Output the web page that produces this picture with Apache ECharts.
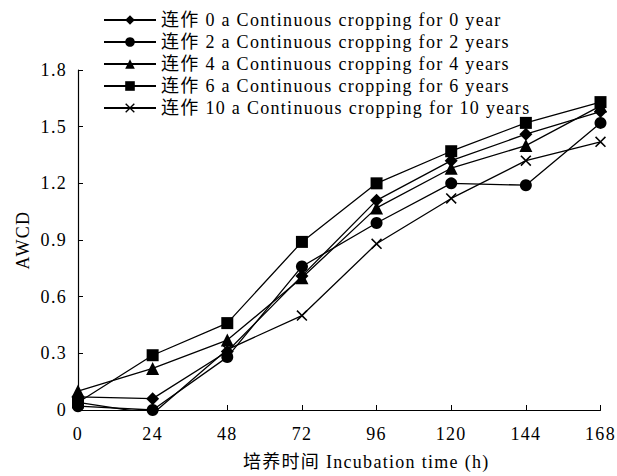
<!DOCTYPE html>
<html>
<head>
    <meta charset="utf-8">
    <title>AWCD</title>
    <script src="https://cdn.jsdelivr.net/npm/echarts@6/dist/echarts.min.js"></script>
    <style>
        html, body { margin: 0; padding: 0; background: #fff; }
        /* 原图字体偏宽，用字距近似 */
        #main svg text { letter-spacing: 1.3px; }
    </style>
</head>
<body>
    <div id="main" style="width: 617px;height:476px;"></div>
    <script>
        // 横坐标：培养时间 (h)
        var hours = [0, 24, 48, 72, 96, 120, 144, 168];
        // 各处理的 AWCD 值
        var year0 = [0.07, 0.06, 0.31, 0.71, 1.11, 1.32, 1.46, 1.58];
        var year2 = [0.02, 0.00, 0.28, 0.76, 0.99, 1.20, 1.19, 1.52];
        var year4 = [0.10, 0.22, 0.37, 0.70, 1.07, 1.28, 1.40, 1.61];
        var year6 = [0.04, 0.29, 0.46, 0.89, 1.20, 1.37, 1.52, 1.63];
        var year10 = [0.04, -0.02, 0.32, 0.50, 0.88, 1.12, 1.32, 1.42];
        var names = [
            '连作 0 a Continuous cropping for 0 year',
            '连作 2 a Continuous cropping for 2 years',
            '连作 4 a Continuous cropping for 4 years',
            '连作 6 a Continuous cropping for 6 years',
            '连作 10 a Continuous cropping for 10 years'
        ];
        var yTicks = [0, 0.3, 0.6, 0.9, 1.2, 1.5, 1.8];

        var font = "'Liberation Serif', 'Noto Sans CJK SC', serif";
        var crossPath = 'path://M0,1L1,0L5,4L9,0L10,1L6,5L10,9L9,10L5,6L1,10L0,9L4,5Z';

        function pairs(vals) {
            return hours.map(function (h, i) { return [h, vals[i]]; });
        }

        function makeSeries(name, vals, symbol, size) {
            return {
                name: name,
                type: 'line',
                data: pairs(vals),
                symbol: symbol,
                symbolSize: size,
                lineStyle: { color: '#000', width: 1.3 },
                itemStyle: { color: '#000' },
                z: 3
            };
        }

        var myChart = echarts.init(document.getElementById('main'), null, { renderer: 'svg' });
        var option = {
            animation: false,
            backgroundColor: '#fff',
            textStyle: { fontFamily: font },
            grid: { left: 78, right: 14, top: 70, bottom: 66 },
            legend: {
                orient: 'vertical',
                left: 98,
                top: 6,
                itemWidth: 52,
                itemHeight: 12,
                itemGap: 4,
                textStyle: { fontFamily: font, fontSize: 18, color: '#000' },
                data: names
            },
            xAxis: {
                type: 'value',
                min: 0,
                max: 168,
                interval: 24,
                name: '培养时间 Incubation time (h)',
                nameLocation: 'middle',
                nameGap: 43,
                nameTextStyle: { fontFamily: font, fontSize: 18, color: '#000', padding: [0, 0, 0, 54] },
                axisLine: { lineStyle: { color: '#000', width: 1.2 } },
                axisTick: { inside: true, length: 5, lineStyle: { color: '#000' } },
                axisLabel: { fontFamily: font, fontSize: 18, color: '#000', margin: 15 },
                splitLine: { show: false }
            },
            yAxis: {
                type: 'value',
                min: 0,
                max: 1.8,
                interval: 0.3,
                name: 'AWCD',
                nameLocation: 'middle',
                nameGap: 46,
                nameRotate: 90,
                nameTextStyle: { fontFamily: font, fontSize: 18, color: '#000' },
                axisLine: { show: true, lineStyle: { color: '#000', width: 1.2 } },
                axisTick: { show: true, inside: true, length: 5, lineStyle: { color: '#000' } },
                axisLabel: {
                    fontFamily: font, fontSize: 18, color: '#000', margin: 11,
                    formatter: function (v) {
                        var t = yTicks.find(function (k) { return Math.abs(k - v) < 1e-6; });
                        return t === 0 ? '0' : t.toFixed(1);
                    }
                },
                splitLine: { show: false }
            },
            series: [
                makeSeries(names[0], year0, 'diamond', 13),
                makeSeries(names[1], year2, 'circle', 12),
                makeSeries(names[2], year4, 'triangle', 13),
                makeSeries(names[3], year6, 'rect', 12),
                makeSeries(names[4], year10, crossPath, 11)
            ]
        };
        myChart.setOption(option);
    </script>
</body>
</html>
